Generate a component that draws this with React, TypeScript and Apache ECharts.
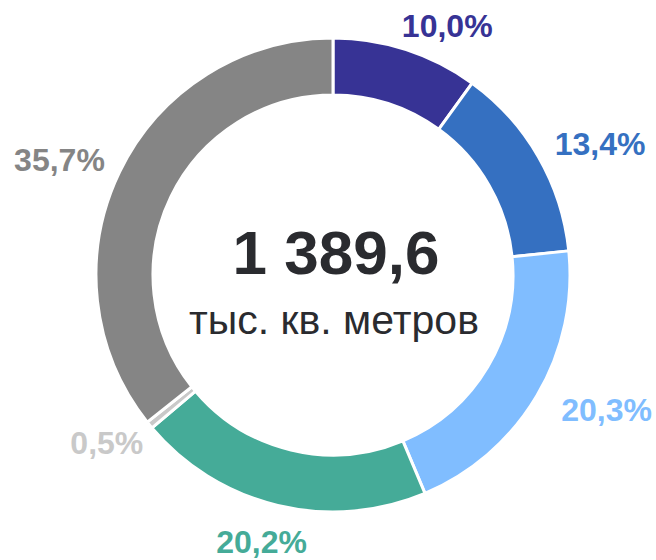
import React, { useEffect, useRef } from "react";
import * as echarts from "echarts";

const categories = ["A", "B", "C", "D", "E", "F"];
const values = [10.0, 13.4, 20.3, 20.2, 0.5, 35.7];
const labels = ["10,0%", "13,4%", "20,3%", "20,2%", "0,5%", "35,7%"];
const colors = ["#373395", "#3570C1", "#80BDFF", "#45AB98", "#C9C9C9", "#858585"];
const totalText = "1 389,6";
const unitText = "тыс. кв. метров";

// label nudges (style only)
const labelNudge = [
  [-8, -12],
  [6, -7],
  [14, 8],
  [32, 25],
  [3, 10],
  [-4, -7],
];

export default function App() {
  const ref = useRef<HTMLDivElement>(null);
  useEffect(() => {
    if (!ref.current) return;
    const chart = echarts.init(ref.current, null, { renderer: "svg" });
    chart.setOption({
      animation: false,
      backgroundColor: "#ffffff",
      graphic: [
        {
          type: "text",
          x: 336,
          y: 221,
          style: {
            text: totalText,
            align: "center",
            fontFamily: "Liberation Sans, Arial, sans-serif",
            fontWeight: "bold",
            fontSize: 62,
            fill: "#2A2B2F",
          },
        },
        {
          type: "text",
          x: 334,
          y: 299,
          style: {
            text: unitText,
            align: "center",
            fontFamily: "Liberation Sans, Arial, sans-serif",
            fontSize: 41,
            fill: "#2A2B2F",
          },
        },
      ],
      series: [
        {
          type: "pie",
          center: [333, 275],
          radius: [180, 237],
          startAngle: 90,
          clockwise: true,
          avoidLabelOverlap: false,
          itemStyle: { borderColor: "#ffffff", borderWidth: 3 },
          label: {
            show: true,
            position: "outside",
            fontFamily: "Liberation Sans, Arial, sans-serif",
            fontWeight: "bold",
            fontSize: 32,
            distanceToLabelLine: 0,
            formatter: (p: any) => labels[p.dataIndex],
          },
          labelLine: { show: false, length: 12, length2: 0 },
          labelLayout: (p: any) => ({
            dx: labelNudge[p.dataIndex][0],
            dy: labelNudge[p.dataIndex][1],
          }),
          data: categories.map((c, i) => ({
            name: c,
            value: values[i],
            itemStyle: { color: colors[i] },
            label: { color: colors[i] },
          })),
        },
      ],
    });
    return () => chart.dispose();
  }, []);
  return (
    <div
      ref={ref}
      style={{ position: "fixed", left: 0, top: 0, width: 656, height: 560 }}
    />
  );
}
